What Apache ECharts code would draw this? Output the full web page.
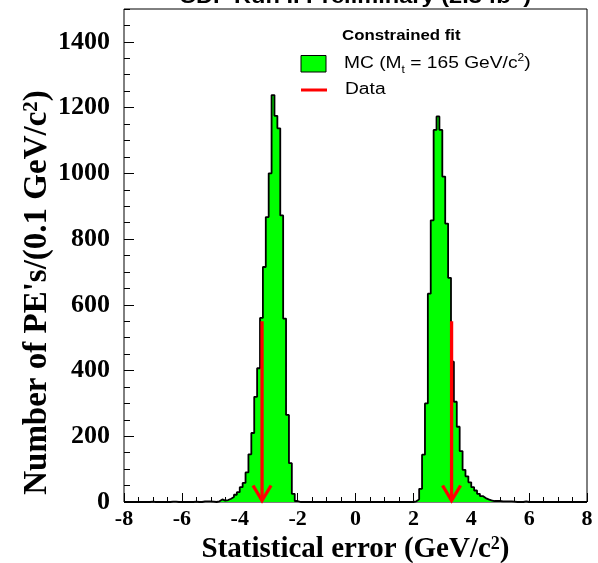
<!DOCTYPE html>
<html>
<head>
<meta charset="utf-8">
<script src="https://cdn.jsdelivr.net/npm/echarts@6/dist/echarts.min.js"></script>
<style>
html,body{margin:0;padding:0;background:#ffffff;}
#chart{width:598px;height:563px;}
</style>
</head>
<body>
<div id="chart"></div>
<script>
// ---- data ----
const binStart = -8.0;   // lower edge of first bin
const binWidth = 0.1;    // GeV/c^2 per bin
// counts per 0.1 GeV/c^2 bin, from -8.0 to 8.0 (160 bins, 10 per row)
const counts = [
  0, 0, 0, 0, 0, 0, 0, 0, 0, 1,          // -8.0 .. -7.1
  0, 0, 0, 0, 0, 0, 1, 1, 0, 0,          // -7.0 .. -6.1
  0, 0, 0, 0, 1, 0, 0, 2, 2, 2,          // -6.0 .. -5.1
  1, 0, 2, 8, 4, 6, 10, 15, 22, 30,      // -5.0 .. -4.1
  45, 58, 90, 145, 210, 320, 407, 560, 715, 867,   // -4.0 .. -3.1
  1000, 1238, 1175, 1137, 872, 558, 265, 118, 25, 3, // -3.0 .. -2.1
  0, 0, 0, 0, 0, 0, 0, 0, 0, 0,          // -2.0 .. -1.1
  0, 0, 0, 0, 0, 0, 0, 0, 0, 0,          // -1.0 .. -0.1
  0, 0, 0, 0, 0, 0, 0, 0, 0, 0,          //  0.0 ..  0.9
  0, 0, 0, 0, 0, 0, 0, 0, 0, 0,          //  1.0 ..  1.9
  2, 8, 40, 144, 300, 634, 857, 1132, 1173, 1132,  //  2.0 ..  2.9
  990, 847, 682, 427, 305, 229, 155, 98, 78, 60,   //  3.0 ..  3.9
  45, 35, 25, 18, 12, 8, 5, 3, 3, 3,     //  4.0 ..  4.9
  2, 2, 2, 2, 1, 0, 0, 0, 2, 0,          //  5.0 ..  5.9
  0, 0, 0, 0, 0, 0, 0, 0, 0, 0,          //  6.0 ..  6.9
  0, 0, 0, 0, 0, 0, 0, 0, 0, 0           //  7.0 ..  7.9
];
// measured data values (red arrows)
const dataValues = [-3.23, 3.32];
const arrowHeights = [550, 550];

// axis ranges / ticks
const xRange = [-8, 8];
const xStep = 2;
const yRange = [0, 1500];
const yStep = 200;
const yMinorStep = 50;

// ---- build step-histogram points from the arrays ----
const histPoints = counts.map((c, i) => [+(binStart + i * binWidth).toFixed(2), c]);
histPoints.push([+(binStart + counts.length * binWidth).toFixed(2), 0]);
const arrowData = dataValues.map((v, i) => [v, arrowHeights[i]]);

const serif = 'Liberation Serif, Times New Roman, serif';
const sans = 'Liberation Sans, Arial, Helvetica, sans-serif';

const chart = echarts.init(document.getElementById('chart'), null, {renderer: 'canvas'});

chart.setOption({
  animation: false,
  backgroundColor: '#ffffff',
  grid: {
    left: 124, right: 11, top: 9, bottom: 61,
    containLabel: false,
    outerBoundsMode: 'none',
    show: true, borderColor: '#000000', borderWidth: 1, backgroundColor: 'transparent'
  },
  xAxis: {
    type: 'value', min: xRange[0], max: xRange[1], interval: xStep,
    axisLine: {show: false, onZero: false},
    splitLine: {show: false},
    axisTick: {show: true, inside: true, length: 9, lineStyle: {color: '#000', width: 1}},
    minorTick: {show: true, splitNumber: 4, length: 5, lineStyle: {color: '#000', width: 1}},
    axisLabel: {fontFamily: serif, fontWeight: 'bold', fontSize: 22, color: '#000', margin: 6,
                formatter: v => String(v)},
    name: 'Statistical error (GeV/c{sup|2})',
    nameLocation: 'middle',
    nameGap: 33,
    nameTextStyle: {
      fontFamily: serif, fontWeight: 'bold', fontSize: 29, color: '#000',
      rich: {sup: {fontFamily: serif, fontWeight: 'bold', fontSize: 18, color: '#000', verticalAlign: 'top', lineHeight: 12}}
    }
  },
  yAxis: [
    {
      type: 'value', min: yRange[0], max: yRange[1], interval: yStep, position: 'left',
      axisLine: {show: false, onZero: false},
      splitLine: {show: false},
      axisTick: {show: true, inside: true, length: 10, lineStyle: {color: '#000', width: 1}},
      axisLabel: {fontFamily: serif, fontWeight: 'bold', fontSize: 26, color: '#000', margin: 14,
                  showMaxLabel: false, formatter: v => String(v)},
      name: "Number of PE's/(0.1 GeV/c{sup|2})",
      nameLocation: 'middle',
      nameGap: 70,
      nameMoveOverlap: false,
      nameTextStyle: {
        fontFamily: serif, fontWeight: 'bold', fontSize: 33, color: '#000',
        padding: [0, 74, 0, 0],
        rich: {sup: {fontFamily: serif, fontWeight: 'bold', fontSize: 21, color: '#000', verticalAlign: 'top', lineHeight: 14}}
      }
    },
    {
      type: 'value', min: yRange[0], max: yRange[1], interval: yMinorStep, position: 'left',
      axisLine: {show: false, onZero: false},
      splitLine: {show: false},
      axisTick: {show: true, inside: true, length: 6, lineStyle: {color: '#000', width: 1}},
      axisLabel: {show: false}
    }
  ],
  series: [
    {
      name: 'MC',
      type: 'line',
      xAxisIndex: 0, yAxisIndex: 0,
      step: 'end',
      symbol: 'none',
      data: histPoints,
      lineStyle: {color: '#000000', width: 1.8},
      areaStyle: {color: '#00ff00', opacity: 1},
      itemStyle: {color: '#00ff00'},
      z: 2
    },
    {
      name: 'Data',
      type: 'custom',
      xAxisIndex: 0, yAxisIndex: 0,
      data: arrowData,
      z: 5,
      renderItem: function (params, api) {
        const x = api.value(0);
        const top = api.coord([x, api.value(1)]);
        const bot = api.coord([x, 0]);
        const tipY = bot[1] - 1.5;
        return {
          type: 'group',
          children: [
            {type: 'line', shape: {x1: top[0], y1: top[1], x2: bot[0], y2: tipY},
             style: {stroke: '#ff0000', lineWidth: 3.3}},
            {type: 'polyline', shape: {points: [[bot[0] - 9, tipY - 15], [bot[0], tipY], [bot[0] + 9, tipY - 15]]},
             style: {stroke: '#ff0000', lineWidth: 3.3, fill: null}}
          ]
        };
      }
    }
  ],
  graphic: [
    {
      type: 'text', x: 355, y: 7, scaleX: 1.18,
      style: {
        text: 'CDF Run II Preliminary (2.3 fb{sup|-1})',
        fill: '#000', fontFamily: sans, fontWeight: 'bold', fontSize: 20,
        align: 'center', verticalAlign: 'bottom',
        rich: {sup: {fontFamily: sans, fontWeight: 'bold', fontSize: 12, fill: '#000', verticalAlign: 'top', lineHeight: 10}}
      }
    },
    {
      type: 'text', x: 342, y: 36, scaleX: 1.2,
      style: {text: 'Constrained fit', fill: '#000', fontFamily: sans, fontWeight: 'bold', fontSize: 14,
              align: 'left', verticalAlign: 'middle'}
    },
    {
      type: 'rect', shape: {x: 301, y: 55.5, width: 25, height: 16.5},
      style: {fill: '#00ff00', stroke: '#000', lineWidth: 1}
    },
    {
      type: 'text', x: 344, y: 64, scaleX: 1.2,
      style: {
        text: 'MC (M{sub|t} = 165 GeV/c{sup|2})',
        fill: '#000', fontFamily: sans, fontSize: 16, lineHeight: 22,
        align: 'left', verticalAlign: 'middle',
        rich: {
          sub: {fontFamily: sans, fontSize: 10, fill: '#000', verticalAlign: 'bottom', lineHeight: 10},
          sup: {fontFamily: sans, fontSize: 10, fill: '#000', verticalAlign: 'top', lineHeight: 10}
        }
      }
    },
    {
      type: 'line', shape: {x1: 301, y1: 90, x2: 327, y2: 90},
      style: {stroke: '#ff0000', lineWidth: 3}
    },
    {
      type: 'text', x: 345, y: 90, scaleX: 1.2,
      style: {text: 'Data', fill: '#000', fontFamily: sans, fontSize: 16, align: 'left', verticalAlign: 'middle'}
    }
  ]
});
</script>
</body>
</html>
